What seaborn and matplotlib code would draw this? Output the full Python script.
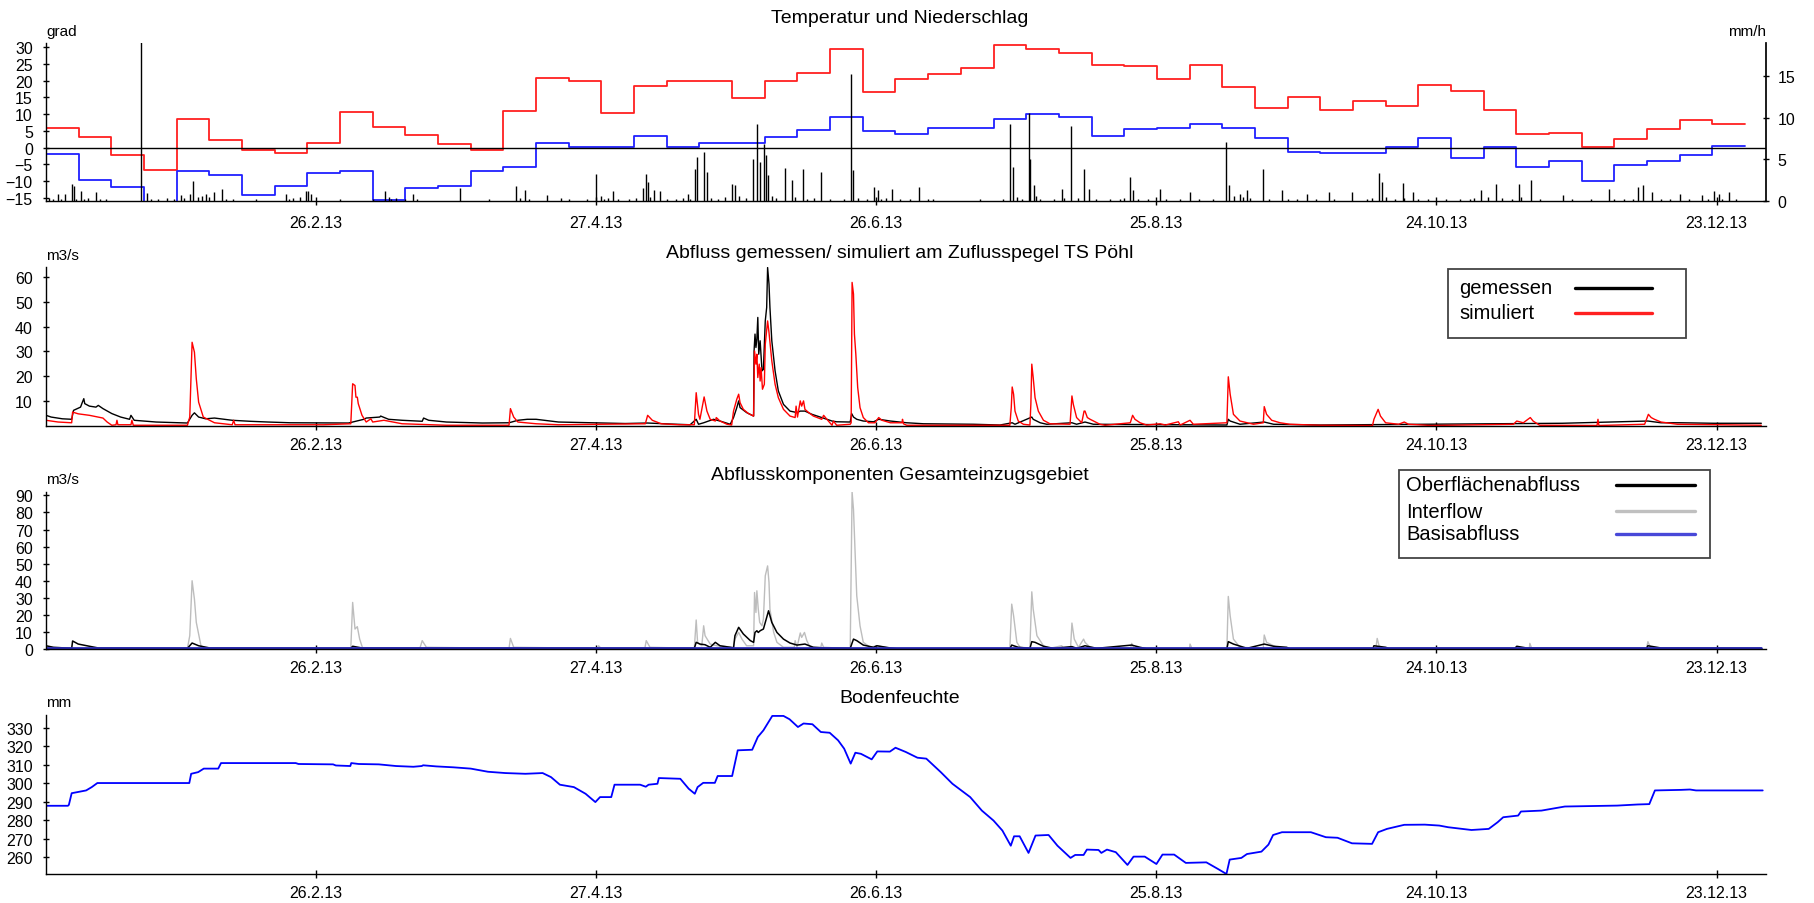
import numpy as np
import seaborn as sns
import matplotlib.pyplot as plt
from matplotlib.patches import Rectangle
from matplotlib.lines import Line2D

sns.set_theme(style="ticks")
plt.rcParams['font.family'] = ['Liberation Sans', 'DejaVu Sans']

B, H = 1814, 904


def fx(x):
    return x / B


def fy(y):
    return 1 - y / H


# x-Achse in Tagen ab Beginn der Reihe
x_ticks = [57.9, 117.9, 177.9, 237.9, 297.9, 357.9]
x_labels = ['26.2.13', '27.4.13', '26.6.13', '25.8.13', '24.10.13', '23.12.13']
x_max = 368.5

# Temperatur, Wochenwerte (Max rot, Min blau)
woche = list(range(0, 365, 7))
t_max = [6.0, 3.3, -2.3, -6.6, 8.6, 2.3, -0.7, -1.6, 1.3, 10.5, 6.2, 3.9, 1.0,
         -0.7, 10.8, 20.9, 19.9, 10.4, 18.3, 19.9, 20.0, 14.7, 19.8, 22.3, 29.4,
         16.7, 20.6, 22.0, 23.6, 30.6, 29.5, 28.2, 24.6, 24.2, 20.6, 24.6, 18.0,
         11.8, 15.1, 11.2, 13.9, 12.5, 18.6, 17.0, 11.2, 4.0, 4.3, 0.3, 2.7, 5.7,
         8.3, 7.2]
t_min = [-1.9, -9.5, -11.7, -18.0, -6.9, -8.1, -14.0, -11.3, -7.5, -7.1, -15.5,
         -12.1, -11.3, -7.1, -5.8, 1.3, 0.2, 0.2, 3.6, 0.3, 1.3, 1.3, 3.2, 5.3,
         9.2, 4.9, 4.2, 5.9, 5.9, 8.5, 10.1, 9.2, 3.6, 5.7, 6.0, 7.1, 5.9, 2.9,
         -1.3, -1.7, -1.7, 0.3, 2.9, -3.2, 0.3, -5.8, -4.0, -9.9, -5.2, -4.0,
         -2.2, 0.6]

# Niederschlag mm/h (Tag, Wert)
niederschlag = [
    (0.7, 0.4), (1.5, 0.2), (2.6, 0.9), (3.2, 0.3), (4.0, 0.8), (5.5, 2.1), (5.9, 1.8),
    (6.5, 0.3), (7.4, 1.2), (8.2, 0.3), (9.1, 0.4), (10.7, 1.1), (11.5, 0.3), (12.8, 0.3),
    (20.3, 25.0), (21.7, 1.0), (22.5, 0.3), (24.0, 0.2), (26.0, 0.4), (27.5, 0.3),
    (28.9, 0.7), (29.5, 0.4), (30.8, 0.9), (31.5, 2.4), (32.5, 0.5), (33.5, 0.6),
    (34.2, 0.9), (35.0, 0.5), (36.1, 1.1), (37.7, 1.4), (38.5, 0.3), (40.0, 0.2),
    (45.0, 0.2), (51.4, 0.9), (52.0, 0.3), (53.0, 0.4), (54.5, 0.5), (55.7, 1.2),
    (56.2, 1.2), (56.8, 0.9), (63.0, 0.2), (70.0, 0.2), (72.6, 1.2), (73.5, 0.5),
    (74.0, 0.3), (75.0, 0.4), (77.0, 0.2), (78.7, 0.8), (79.5, 0.3), (88.7, 1.6),
    (95.0, 0.2), (100.7, 1.8), (101.5, 0.4), (102.6, 1.3), (103.5, 0.3), (107.4, 0.7),
    (110.4, 0.4), (112.0, 0.2), (116.0, 0.2), (117.9, 3.2), (118.9, 0.6), (119.5, 0.3),
    (120.5, 0.4), (121.4, 1.2), (122.5, 0.3), (125.0, 0.3), (126.5, 0.4), (127.9, 1.6),
    (128.6, 3.3), (128.9, 2.3), (129.5, 0.5), (130.3, 1.3), (131.6, 1.2), (133.0, 0.3),
    (135.0, 0.2), (136.5, 0.4), (137.5, 0.9), (138.0, 0.3), (139.1, 3.8), (139.4, 5.3),
    (140.9, 5.9), (141.6, 3.5), (142.5, 0.4), (144.0, 0.3), (145.5, 0.5), (146.9, 2.1),
    (147.7, 1.9), (148.5, 0.6), (150.0, 0.4), (151.5, 5.1), (152.3, 9.2), (153.0, 4.7),
    (153.8, 6.9), (154.3, 5.5), (154.7, 3.1), (155.5, 0.6), (156.5, 0.4), (158.4, 4.0),
    (159.9, 2.5), (160.5, 0.5), (162.2, 3.9), (163.0, 0.3), (164.5, 0.4), (166.0, 3.5),
    (168.0, 0.3), (171.0, 0.3), (172.4, 15.3), (172.8, 3.7), (174.0, 0.4), (176.0, 0.3),
    (177.4, 1.7), (178.2, 1.3), (179.0, 0.3), (180.0, 0.4), (181.2, 1.5), (183.0, 0.3),
    (185.0, 0.2), (187.0, 1.7), (189.0, 0.3), (190.0, 0.2), (200.0, 0.2), (205.0, 0.3),
    (206.6, 9.2), (207.1, 4.1), (208.0, 0.5), (209.0, 0.3), (210.6, 10.6), (210.9, 5.1),
    (211.6, 1.9), (212.0, 0.6), (213.0, 0.3), (216.0, 0.3), (217.7, 1.5), (218.0, 0.4),
    (219.5, 9.0), (221.0, 0.4), (222.3, 3.9), (223.5, 1.5), (225.0, 0.2), (228.0, 0.3),
    (230.0, 0.3), (231.0, 0.4), (232.2, 2.9), (232.9, 1.3), (234.0, 0.3), (236.0, 0.2),
    (238.7, 1.5), (240.0, 0.3), (243.0, 0.3), (245.1, 1.1), (247.0, 0.2), (250.0, 0.3),
    (252.9, 7.1), (253.5, 1.9), (254.5, 0.6), (255.8, 0.9), (256.5, 0.5), (257.3, 1.3),
    (258.0, 0.4), (260.8, 3.9), (262.0, 0.3), (264.9, 1.3), (266.0, 0.3), (268.0, 0.2),
    (270.2, 0.9), (272.0, 0.2), (274.8, 1.1), (276.0, 0.2), (279.8, 1.1), (283.0, 0.3),
    (284.0, 0.4), (285.5, 3.4), (286.2, 2.3), (287.0, 0.5), (289.0, 0.3), (290.8, 2.2),
    (291.0, 0.4), (292.8, 1.1), (294.0, 0.3), (296.0, 0.2), (300.0, 0.2), (303.0, 0.3),
    (305.0, 0.3), (306.0, 0.4), (307.5, 1.3), (309.0, 0.5), (310.6, 2.1), (312.0, 0.4),
    (314.0, 0.3), (315.6, 2.0), (316.0, 0.5), (318.2, 2.5), (320.0, 0.3), (325.0, 0.7),
    (327.0, 0.2), (331.0, 0.3), (334.9, 1.4), (336.0, 0.3), (338.0, 0.2), (340.0, 0.3),
    (341.0, 1.7), (342.2, 1.9), (344.1, 1.1), (346.0, 0.3), (348.0, 0.2), (350.1, 0.9),
    (352.0, 0.3), (354.7, 0.7), (356.0, 0.2), (357.3, 1.2), (358.5, 0.9), (359.0, 0.3),
    (360.5, 1.1), (362.0, 0.3),
]

# Abfluss gemessen (Tag, m3/s)
q_gemessen = [
    (0.0, 4.3), (1.1, 3.6), (3.5, 2.9), (5.5, 2.7), (5.9, 6.3), (7.4, 7.6), (7.8, 9.6),
    (8.1, 11.0), (8.3, 9.0), (9.3, 8.0), (10.7, 7.6), (11.2, 8.3), (12.2, 7.0), (14.1, 5.0),
    (16.0, 3.6), (17.9, 2.7), (18.2, 4.3), (18.9, 2.3), (23.6, 1.6), (30.3, 1.2), (31.3, 4.3),
    (31.8, 5.3), (32.7, 3.6), (34.2, 2.9), (36.1, 3.2), (39.9, 2.3), (43.7, 1.9), (47.6, 1.6),
    (52.3, 1.3), (64.8, 1.2), (65.7, 1.6), (68.1, 2.7), (68.6, 3.2), (71.5, 3.6), (71.7, 4.0),
    (73.4, 2.7), (76.3, 2.3), (80.6, 1.9), (80.9, 3.2), (82.0, 2.3), (85.8, 1.6), (93.5, 1.2),
    (99.2, 1.3), (101.1, 2.3), (103.1, 2.7), (105.0, 2.7), (109.8, 1.6), (124.1, 1.0),
    (128.9, 1.2), (133.7, 0.8), (138.0, 0.5), (139.3, 2.7), (139.8, 0.7), (140.9, 1.3),
    (143.0, 2.7), (144.4, 2.0), (146.6, 0.7), (147.3, 3.4), (148.0, 7.4), (148.4, 10.1),
    (148.7, 7.4), (150.1, 5.4), (151.6, 4.0), (151.7, 30.2), (151.9, 37.0), (152.1, 31.6),
    (152.3, 35.0), (152.5, 43.7), (152.7, 28.9), (153.0, 34.3), (153.4, 22.2), (153.7, 22.8),
    (154.1, 42.3), (154.4, 47.7), (154.6, 63.8), (154.9, 57.1), (155.1, 47.7), (155.5, 34.3),
    (156.2, 22.2), (156.9, 14.1), (158.0, 8.7), (159.4, 6.0), (160.9, 5.4), (161.6, 6.0),
    (162.6, 6.0), (164.1, 4.7), (166.2, 3.4), (168.4, 2.0), (169.4, 1.7), (172.3, 1.6),
    (172.6, 5.0), (173.0, 3.6), (173.7, 2.7), (175.1, 2.0), (177.3, 1.7), (178.4, 2.7),
    (180.9, 2.0), (184.4, 1.3), (188.0, 0.9), (198.7, 0.7), (204.4, 0.4), (207.0, 1.3),
    (207.6, 0.7), (211.2, 3.6), (211.5, 2.7), (213.0, 1.3), (214.4, 0.7), (219.8, 1.3),
    (220.8, 0.7), (222.6, 1.6), (224.4, 0.7), (253.0, 0.4), (253.3, 2.7), (253.7, 2.0),
    (255.8, 0.7), (261.0, 1.6), (263.0, 0.7), (273.0, 0.4), (324.9, 1.1), (343.2, 2.0),
    (346.0, 1.3), (350.2, 1.3), (357.2, 1.1), (367.5, 1.1),
]

# Abfluss simuliert (Tag, m3/s)
q_simuliert = [
    (0.0, 2.3), (2.6, 1.6), (5.5, 1.3), (5.7, 5.6), (6.9, 4.9), (9.3, 4.3), (12.2, 3.2),
    (13.1, 1.6), (14.1, 0.3), (15.0, 0.5), (15.2, 2.3), (15.4, 0.5), (18.2, 0.5), (18.4, 2.3),
    (18.7, 0.3), (30.3, 0.3), (30.8, 3.6), (31.3, 33.7), (31.8, 29.7), (32.2, 19.0),
    (32.7, 9.6), (33.7, 3.6), (36.1, 1.3), (39.9, 0.5), (40.2, 2.3), (40.5, 0.5), (59.5, 0.5),
    (65.3, 0.9), (65.7, 17.0), (66.2, 16.3), (66.4, 11.6), (66.7, 11.6), (66.9, 9.0),
    (67.7, 4.3), (68.6, 1.6), (69.6, 2.9), (70.0, 1.6), (72.4, 2.3), (76.3, 0.9), (85.8, 0.3),
    (99.2, 0.3), (99.5, 7.0), (100.2, 3.6), (101.1, 1.6), (105.0, 0.9), (109.8, 0.5),
    (128.4, 0.9), (128.9, 4.3), (129.9, 2.3), (131.8, 0.9), (135.6, 0.5), (138.9, 0.5),
    (139.3, 13.4), (139.8, 4.7), (140.1, 2.7), (141.0, 11.7), (141.6, 6.0), (142.3, 2.7),
    (143.4, 2.0), (143.6, 3.4), (144.4, 2.0), (145.9, 0.7), (146.9, 0.4), (147.3, 6.0),
    (148.0, 10.8), (148.4, 12.8), (148.7, 9.4), (149.4, 6.7), (150.5, 5.0), (151.6, 4.0),
    (151.8, 30.2), (152.1, 24.9), (152.3, 28.9), (152.5, 19.5), (152.8, 24.9), (153.0, 18.1),
    (153.2, 23.5), (153.5, 14.8), (153.9, 16.8), (154.1, 32.9), (154.6, 42.3), (154.9, 37.6),
    (155.5, 26.2), (156.2, 16.8), (156.9, 11.4), (158.0, 6.7), (159.4, 4.0), (160.5, 3.4),
    (160.7, 8.0), (161.0, 3.6), (161.6, 10.1), (161.9, 8.0), (162.3, 10.1), (162.6, 6.7),
    (163.4, 5.4), (164.4, 4.0), (166.2, 2.7), (166.6, 4.3), (167.3, 2.7), (168.4, 0.3),
    (168.7, 2.0), (169.4, 0.3), (172.3, 0.7), (172.5, 1.3), (172.7, 57.8), (173.0, 53.1),
    (173.2, 37.0), (173.5, 28.9), (173.9, 15.5), (174.4, 7.4), (175.1, 3.4), (176.2, 1.3),
    (177.6, 1.3), (178.4, 3.4), (179.1, 2.3), (180.9, 1.3), (183.4, 1.3), (183.5, 2.7),
    (183.7, 0.9), (184.4, 0.3), (206.5, 0.3), (206.8, 7.4), (207.0, 15.7), (207.3, 12.8),
    (207.6, 6.0), (208.3, 2.0), (209.4, 0.7), (210.8, 0.4), (211.0, 8.7), (211.2, 24.9),
    (211.5, 19.5), (211.9, 11.4), (212.6, 6.0), (213.7, 2.3), (215.1, 0.9), (219.4, 0.7),
    (219.8, 12.1), (220.1, 8.7), (220.8, 3.4), (221.9, 1.3), (222.4, 6.0), (222.6, 6.0),
    (223.1, 3.4), (223.7, 2.7), (225.8, 0.7), (226.9, 0.3), (232.3, 1.3), (232.8, 4.3),
    (233.3, 2.7), (234.4, 1.3), (235.8, 0.4), (238.7, 0.9), (239.8, 0.4), (242.6, 1.7),
    (243.0, 0.4), (245.1, 2.3), (245.8, 0.7), (253.0, 1.3), (253.3, 19.8), (253.7, 12.8),
    (254.4, 4.7), (255.8, 2.0), (258.7, 0.7), (260.8, 1.3), (261.0, 7.8), (261.5, 4.7),
    (262.6, 2.3), (264.4, 1.3), (266.5, 0.7), (273.0, 0.3), (284.2, 0.2), (284.5, 2.7),
    (285.4, 6.7), (285.9, 4.0), (287.0, 1.3), (289.8, 0.7), (291.0, 1.6), (291.9, 0.7),
    (296.8, 0.2), (314.4, 0.7), (315.1, 2.0), (316.5, 1.3), (318.0, 3.4), (318.6, 2.0),
    (320.0, 0.3), (332.3, 0.2), (332.5, 2.7), (332.7, 0.2), (342.5, 0.7), (343.3, 4.7),
    (343.9, 3.4), (344.6, 2.7), (346.0, 1.6), (349.5, 0.7), (367.5, 0.3),
]

# Abflusskomponenten (Tag, m3/s)
q_interflow = [
    (0.0, 0.3), (30.3, 0.4), (30.8, 7.8), (31.3, 40.0), (31.8, 29.2), (32.2, 15.6),
    (33.2, 1.9), (34.2, 0.4), (65.3, 0.4), (65.7, 27.3), (66.2, 11.7), (66.7, 13.1),
    (67.2, 5.8), (67.8, 0.8), (80.1, 0.4), (80.6, 4.9), (81.5, 1.0), (99.2, 0.4), (99.5, 6.2),
    (100.2, 1.0), (118.2, 0.4), (118.4, 1.9), (118.9, 0.4), (128.3, 0.4), (128.6, 4.9),
    (129.4, 1.0), (138.9, 0.4), (139.3, 17.0), (139.6, 3.9), (140.5, 1.9), (140.9, 13.6),
    (141.2, 7.8), (142.3, 2.9), (143.7, 1.9), (147.3, 1.0), (147.6, 5.8), (148.4, 9.7),
    (149.1, 5.8), (150.1, 1.9), (151.6, 1.9), (151.8, 33.1), (152.1, 21.4), (152.3, 34.1),
    (152.6, 23.4), (152.9, 15.6), (153.4, 13.6), (153.7, 17.5), (154.1, 42.9), (154.6, 48.7),
    (154.9, 39.0), (155.1, 23.4), (155.9, 9.7), (156.6, 3.9), (158.0, 1.0), (160.3, 1.0),
    (160.5, 4.9), (160.9, 1.0), (161.6, 9.4), (161.9, 6.8), (162.5, 9.7), (163.0, 4.9),
    (163.7, 1.0), (166.0, 1.0), (166.2, 3.5), (166.6, 1.0), (172.3, 0.2), (172.7, 92.0),
    (173.0, 81.8), (173.4, 52.6), (173.7, 31.2), (174.4, 13.6), (175.1, 3.9), (176.6, 1.0),
    (178.0, 1.9), (180.9, 0.4), (206.5, 0.4), (206.9, 26.3), (207.3, 19.5), (208.0, 3.9),
    (208.7, 1.0), (210.8, 0.6), (211.2, 33.5), (211.5, 23.4), (212.3, 7.8), (213.7, 1.9),
    (215.1, 0.4), (217.6, 1.9), (218.0, 0.4), (219.5, 0.4), (219.8, 15.2), (220.3, 5.8),
    (221.2, 1.0), (222.3, 5.8), (222.6, 3.9), (223.7, 1.0), (225.8, 0.4), (232.4, 0.4),
    (232.6, 3.3), (233.1, 0.4), (245.0, 0.4), (245.1, 2.9), (245.5, 0.4), (253.0, 0.4),
    (253.3, 30.8), (253.7, 19.5), (254.4, 5.8), (255.8, 1.0), (260.8, 0.4), (261.0, 8.2),
    (261.5, 3.9), (263.7, 1.0), (265.8, 0.4), (284.9, 0.4), (285.2, 6.2), (285.6, 1.9),
    (286.3, 0.4), (317.8, 0.4), (317.9, 3.3), (318.3, 0.4), (342.9, 0.4), (343.2, 4.3),
    (343.8, 0.4), (367.5, 0.4),
]

q_oberflaeche = [
    (0.0, 1.9), (1.6, 1.0), (5.5, 0.4), (5.7, 4.7), (6.9, 2.9), (9.3, 1.6), (11.2, 0.6),
    (30.3, 0.4), (31.3, 3.5), (32.7, 1.9), (35.1, 0.6), (65.3, 0.4), (65.7, 1.6), (67.7, 0.6),
    (138.9, 0.4), (139.3, 3.9), (140.1, 2.9), (141.2, 2.5), (142.3, 1.0), (143.4, 3.9),
    (144.4, 1.9), (146.6, 1.0), (147.3, 0.6), (147.6, 7.8), (148.4, 12.7), (149.4, 8.8),
    (150.9, 4.9), (151.6, 3.9), (151.9, 9.7), (152.3, 10.7), (152.6, 9.7), (153.0, 10.7),
    (153.7, 11.7), (154.3, 17.5), (154.8, 22.4), (155.5, 15.6), (156.6, 9.7), (158.0, 5.8),
    (159.4, 3.5), (160.9, 2.3), (162.6, 2.9), (164.4, 1.0), (166.6, 0.6), (172.3, 0.4),
    (173.0, 5.8), (173.7, 4.9), (175.1, 2.3), (177.3, 1.0), (178.0, 1.9), (180.9, 0.6),
    (182.3, 0.2), (206.5, 0.2), (206.9, 2.3), (208.3, 1.0), (210.8, 0.4), (211.2, 4.3),
    (211.9, 3.9), (213.7, 1.6), (215.8, 0.4), (219.8, 1.4), (220.8, 0.4), (222.6, 1.9),
    (225.1, 0.4), (232.6, 2.3), (234.4, 1.0), (235.8, 0.2), (253.0, 0.2), (253.3, 4.3),
    (254.4, 2.9), (257.3, 0.4), (261.0, 2.9), (263.0, 1.6), (265.8, 1.0), (266.5, 0.2),
    (284.3, 0.4), (284.5, 1.9), (287.0, 1.0), (287.7, 0.4), (314.7, 0.4), (315.1, 1.6),
    (317.2, 0.6), (342.9, 0.4), (343.2, 1.9), (346.0, 0.6), (367.5, 0.4),
]

q_basis = [(0.0, 0.5), (367.5, 0.5)]

# Bodenfeuchte (Tag, mm)
bodenfeuchte = [
    (0.0, 287.9), (4.7, 287.9), (4.9, 288.4), (5.5, 294.7), (6.7, 295.3), (8.6, 296.2),
    (9.8, 298.0), (11.0, 300.2), (30.7, 300.2), (31.1, 305.2), (32.6, 306.1), (33.8, 308.0),
    (36.9, 308.0), (37.5, 311.0), (53.5, 311.0), (54.1, 310.5), (61.5, 310.3), (62.1, 309.7),
    (65.2, 309.4), (65.4, 311.0), (67.0, 310.5), (71.3, 310.3), (75.0, 309.4), (78.7, 309.0),
    (80.5, 309.4), (80.8, 309.8), (83.6, 309.2), (87.3, 308.7), (91.0, 308.0), (94.7, 306.3),
    (98.4, 305.6), (102.7, 305.2), (106.4, 305.6), (108.2, 303.4), (110.1, 299.3),
    (113.1, 298.0), (115.6, 294.4), (117.7, 289.9), (118.7, 292.6), (121.1, 292.6),
    (121.8, 299.3), (127.3, 299.3), (128.5, 298.2), (129.1, 299.3), (131.0, 299.8),
    (131.3, 302.9), (135.9, 302.5), (137.7, 297.1), (139.0, 294.4), (139.6, 298.0),
    (140.8, 300.3), (143.3, 300.3), (143.9, 304.0), (147.0, 304.0), (148.2, 317.9),
    (151.3, 318.2), (152.5, 325.1), (153.7, 328.7), (155.6, 336.5), (158.0, 336.5),
    (159.3, 334.7), (161.1, 330.5), (162.3, 332.4), (164.2, 332.0), (166.0, 327.8),
    (167.9, 327.4), (169.7, 323.3), (171.0, 318.8), (172.4, 310.7), (173.4, 316.6),
    (174.6, 316.0), (176.9, 313.0), (178.1, 317.3), (180.8, 317.2), (182.0, 319.3),
    (184.2, 317.0), (186.7, 313.9), (188.6, 313.4), (191.7, 306.1), (194.2, 299.8),
    (198.0, 292.6), (200.5, 285.3), (203.0, 279.9), (204.9, 274.5), (206.7, 266.3),
    (207.4, 271.4), (208.6, 271.4), (210.5, 262.4), (212.0, 271.8), (214.8, 272.1),
    (216.7, 266.3), (219.5, 259.7), (220.5, 261.3), (222.3, 261.3), (223.0, 264.2),
    (225.5, 264.0), (226.1, 262.4), (227.3, 264.2), (229.2, 262.8), (231.7, 255.9),
    (233.0, 260.4), (235.4, 260.4), (237.9, 256.4), (239.2, 261.5), (241.7, 261.5),
    (244.2, 257.0), (248.6, 257.3), (251.1, 253.7), (252.9, 251.0), (253.6, 258.8),
    (256.1, 259.7), (257.3, 261.8), (260.4, 263.1), (261.9, 266.9), (262.9, 272.1),
    (264.8, 273.6), (271.0, 273.6), (274.2, 270.9), (276.7, 270.6), (279.8, 267.6),
    (284.1, 267.3), (285.4, 273.6), (287.3, 275.4), (291.0, 277.6), (295.4, 277.7),
    (298.5, 277.2), (300.4, 276.3), (305.4, 274.8), (309.1, 275.4), (311.0, 279.0),
    (312.2, 281.7), (315.4, 282.6), (316.0, 284.8), (320.4, 285.3), (325.4, 287.5),
    (336.6, 288.0), (341.0, 288.6), (343.5, 288.8), (344.7, 296.2), (350.3, 296.5),
    (352.2, 296.7), (353.5, 296.2), (367.8, 296.2),
]


def linie(ax, punkte, farbe, lw):
    tag, wert = np.array(punkte).T
    sns.lineplot(x=tag, y=wert, ax=ax, color=farbe, lw=lw,
                 estimator=None, sort=False, errorbar=None)


def achse(top, bottom, xpad=5):
    ax = fig.add_axes([fx(46), fy(bottom), fx(1766) - fx(46), (bottom - top) / H])
    ax.set_xlim(0, x_max)
    ax.set_xticks(x_ticks)
    ax.set_xticklabels(x_labels)
    ax.tick_params(axis='x', direction='inout', length=6, width=1, labelsize=11.5, pad=xpad, colors='black')
    ax.tick_params(axis='y', direction='inout', length=5, width=1, labelsize=11.5, pad=7, colors='black')
    for s in ['top', 'right']:
        ax.spines[s].set_visible(False)
    for s in ['left', 'bottom']:
        ax.spines[s].set_color('black')
        ax.spines[s].set_linewidth(1)
    ax.set_xlabel('')
    ax.set_ylabel('')
    return ax


fig = plt.figure(figsize=(B / 100, H / 100), dpi=100)

# 1) Temperatur und Niederschlag
ax1 = achse(44, 202, xpad=7)
sns.lineplot(x=woche, y=t_max + [t_max[-1]], ax=ax1, color='#ff2020', lw=1.3,
             drawstyle='steps-post', estimator=None, errorbar=None)
sns.lineplot(x=woche, y=t_min + [t_min[-1]], ax=ax1, color='#2020ff', lw=1.3,
             drawstyle='steps-post', estimator=None, errorbar=None)
ax1.axhline(0, color='black', lw=1)
ax1.set_ylim(-15.9, 31.2)
ax1.set_yticks(range(-15, 31, 5))
ax1.set_xlim(0, x_max)

ax1r = ax1.twinx()
p_tag, p_wert = np.array(niederschlag).T
ax1r.vlines(p_tag, 0, p_wert, color='black', lw=1.0)
ax1r.set_ylim(0, 19)
ax1r.set_yticks([0, 5, 10, 15])
ax1r.tick_params(axis='y', direction='inout', length=5, width=1, labelsize=11.5, pad=6, colors='black')
for s in ['top', 'left', 'bottom']:
    ax1r.spines[s].set_visible(False)
ax1r.spines['right'].set_color('black')
ax1r.set_xlim(0, x_max)

# 2) Abfluss gemessen / simuliert
ax2 = achse(268, 427)
linie(ax2, q_gemessen, 'black', 1.0)
linie(ax2, q_simuliert, '#ff0000', 1.0)
ax2.set_ylim(0, 64)
ax2.set_yticks(range(10, 61, 10))

# 3) Abflusskomponenten
ax3 = achse(493, 650)
linie(ax3, q_interflow, '#bdbdbd', 1.0)
linie(ax3, q_oberflaeche, 'black', 1.1)
linie(ax3, q_basis, '#2a2ab8', 2.0)
ax3.set_ylim(0, 92)
ax3.set_yticks(range(0, 91, 10))

# 4) Bodenfeuchte
ax4 = achse(716, 875)
linie(ax4, bodenfeuchte, '#0000ff', 1.3)
ax4.set_ylim(251, 337)
ax4.set_yticks(range(260, 331, 10))

# Titel und Einheiten
titel = [('Temperatur und Niederschlag', 23),
         ('Abfluss gemessen/ simuliert am Zuflusspegel TS Pöhl', 258),
         ('Abflusskomponenten Gesamteinzugsgebiet', 480),
         ('Bodenfeuchte', 703)]
for t, y in titel:
    fig.text(fx(900), fy(y), t, ha='center', va='baseline', fontsize=14, color='black')

einheiten = [('grad', 46, 36, 'left'), ('mm/h', 1766, 36, 'right'),
             ('m3/s', 46, 260, 'left'), ('m3/s', 46, 484, 'left'), ('mm', 46, 707, 'left')]
for t, x, y, ha in einheiten:
    fig.text(fx(x), fy(y), t, ha=ha, va='baseline', fontsize=11, color='black')


# Legenden (Text links, Linie rechts)
def legende(box, eintraege, x_text, x_linie):
    x0, y0, x1, y1 = box
    fig.add_artist(Rectangle((fx(x0), fy(y1)), fx(x1) - fx(x0), (y1 - y0) / H,
                             transform=fig.transFigure, fill=False, ec='#444444', lw=1.3))
    for label, farbe, y in eintraege:
        fig.text(fx(x_text), fy(y), label, ha='left', va='center', fontsize=14.5, color='black')
        fig.add_artist(Line2D([fx(x_linie[0]), fx(x_linie[1])], [fy(y), fy(y)],
                              transform=fig.transFigure, color=farbe, lw=2.4))


legende((1448, 270, 1686, 339),
        [('gemessen', 'black', 289), ('simuliert', '#ff2020', 314)],
        1459, (1575, 1652))
legende((1399, 471, 1710, 559),
        [('Oberflächenabfluss', 'black', 486), ('Interflow', '#c0c0c0', 512),
         ('Basisabfluss', '#4848d8', 535)],
        1406, (1616, 1695))

fig.savefig('out.png', dpi=100)
